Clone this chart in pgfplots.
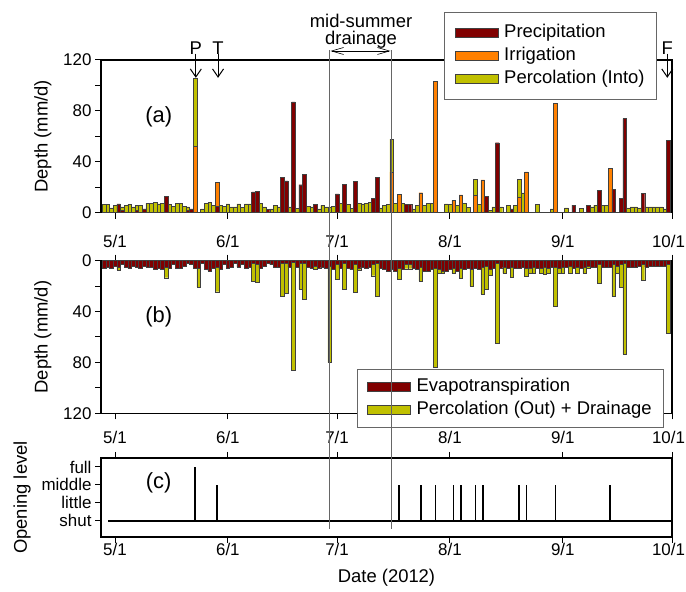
\documentclass[border=0pt]{standalone}
\usepackage{pgfplots}
\pgfplotsset{compat=1.18}
\usepackage{pgfplotstable}
\usepackage{fontspec}
\setmainfont{Liberation Sans}
\usetikzlibrary{arrows.meta}

\definecolor{precip}{RGB}{128,0,0}
\definecolor{irrig}{RGB}{255,128,0}
\definecolor{perc}{RGB}{192,192,0}

% day 0 = 5/1; P, I, Pin: inflows (mm/d); ET, Pout: outflows (mm/d)
\pgfplotstableread{
d P I Pin ET Pout
-3 0 0 6.8 6 0
-2 0 0 6.3 5 0
-1 0 0 3.7 6 0
0 0 0 6 4 0
1 7 0 0 5 7.3
2 2 0 4.5 3 0
3 0 0 5.5 5 0
4 0 0 6.8 6 0
5 0 0 4.5 4 0
6 2 0 6 5 0
7 0 0 6 6 0
8 3 0 0 4 0
9 0 0 7.3 5 0
10 0 0 7.3 5 0
11 0 0 8.4 7 0
12 0 0 7 6 0
13 0 0 7.6 7 0
14 13 0 0 5 13.4
15 0 0 6.8 6 0
16 0 0 5 3 0
17 0 0 7.3 6 0
18 0 0 7.3 6 0
19 0 0 5 4 0
20 2 0 4.5 2 0
21 3 0 0 3 0
22 0 52 105.8 6 0
23 0 0 0 6 20.5
24 0 0 3 2 0
25 0 0 7.6 7 0
26 0 0 8 8 0
27 0 0 6 6 0
28 5 24 0 5 24.4
29 0 0 6 7 0
30 0 0 5 3 0
31 0 0 7 6 0
32 0 0 4.5 5 0
33 0 0 4.5 2 0
34 0 0 7 5 0
35 0 0 4 3 0
36 0 0 7 6 0
37 0 0 7 5 0
38 16.3 0 0 2 16.5
39 16.8 0 0 3 17.3
40 0 0 7.6 6 0
41 0 0 4.5 4 0
42 2.4 0 0 2 0
43 0 0 3 3 0
44 0 0 6 5 0
45 0 0 4.5 5 0
46 27.6 0 0 2 28
47 25 0 0 2 25.5
48 0 0 4.5 5 0
49 87 0 0 1 86.5
50 0 0 3.4 5 0
51 22 0 0 2 22.3
52 30.4 0 0 2 30
53 0 0 5 5 0
54 0 0 4.5 6 0
55 6.3 0 0 4 6.6
56 0 0 3 6 0
57 0 0 5.8 5 0
58 0 0 4.5 6 0
59 0 0 4.5 4 80
60 0 0 5 7 0
61 14.7 0 0 3 14.5
62 0 0 7.6 6 0
63 22.3 0 0 2 22.3
64 0 0 6.8 6 0
65 0 0 3.4 7 0
66 24.7 0 0 3 25
67 0 0 7.6 6 7.6
68 0 0 7 5 0
69 0 0 7.6 6 0
70 0 0 8 5 0
71 11.5 0 0 3 11.8
72 28 0 0 2 28.3
73 0 0 3.7 6 0
74 0 0 5.5 7 0
75 0 0 6.3 8 0
76 0 32 57.8 7 0
77 0 0 7.6 8 0
78 0 14.4 0 6 14.5
79 0 0 7.6 7 0
80 6.3 0 0 3 6.3
81 6.3 0 0 3 6.3
82 0 0 3 6 0
83 0 0 5.5 7 0
84 0 15.7 0 5 15.8
85 0 0 6 8 0
86 0 0 7.6 8 0
87 0 0 7.6 7 0
88 0 103 0 6 84
89 0 0 0 7 10
90 0 0 0 8 10
91 0 0 7 8 0
92 0 0 6.3 7 0
93 0 9.7 0 6 10
94 0 0 6 8 0
95 0 14 0 6 14
96 0 0 7.6 7 0
97 0 0 4 6 0
98 0 0 0 7 20
99 0 13.9 26.2 6 0
100 0 0 6.3 7 0
101 0 25.7 0 5 26
102 12.9 0 0 4 22.3
103 0 0 1.6 7 11.3
104 0 0 4.5 6 0
105 55 0 0 2 65
106 0 0 4.5 6 0
107 0 0 0 5 10
108 0 0 5.8 6 0
109 3 0 0 5 13
110 0 0 5.8 6 0
111 0 12.3 26 6 0
112 0 0 15.5 5 0
113 0 32 0 6 12
114 0 0 0 6 10
115 0 0 0 5 10
116 0 0 6.3 6 0
117 0 0 0 6 10
118 0 0 0 5 10.5
119 0 0 0 6 10
120 0 0 3 5 0
121 0 86 0 5 36
122 0 0 0 6 10
123 0 0 0 5 10
124 0 0 3.7 5 0
125 0 0 0 4 10
126 6 0 0 6 0
127 0 0 0 5 10
128 0 0 3.4 6 0
129 0 0 0 5 10
130 5.5 0 0 4 6
131 0 0 4.5 5 0
132 0 0 6 5 0
133 17.6 0 0 3 18
134 0 0 6 5 0
135 0 0 6 5 0
136 0 35 0 5 0
137 18.6 0 0 3 28.3
138 0 0 0 4 10
139 11 0 0 3 21
140 74 0 0 2 73.5
141 0 0 3.7 5 0
142 0 0 4.5 5 0
143 0 0 4.5 5 0
144 0 0 3.7 4 0
145 15.2 0 0 3 15.2
146 0 0 4.5 5 0
147 0 0 4.5 4 0
148 0 0 4.5 4 0
149 0 0 4.5 4 0
150 0 0 4.5 4 0
151 0 0 3 4 0
152 57 0 0 3 56.7
}\water

\pgfplotsset{
  /pgf/number format/assume math mode=true,
  panel/.style={
    scale only axis, width=571bp, xmin=-3.85, xmax=153,
    axis line style={line width=1.2bp},
    every tick/.style={black, line width=1bp},
    tick align=outside, major tick length=6bp, minor tick length=6bp,
    xtick={0,31,61,92,123,153},
    xticklabels={5/1,6/1,7/1,8/1,9/1,\hspace*{-7bp}10/1},
    ytick pos=left,
    tick label style={font=\fontsize{17}{19}\selectfont},
    label style={font=\fontsize{18.5}{21}\selectfont},
    clip=false,
  },
  dbar/.style={ybar, bar width=1, bar shift=0pt, draw=black!75, line width=0.4bp},
  legend image code/.code={\draw[#1,/tikz/.cd] (0bp,-4.5bp) rectangle (43bp,4.5bp); \path (47bp,0bp);},
  lgd/.style={legend cell align=left, reverse legend,
    legend style={draw=black!60, line width=0.8bp, fill=white,
      font=\fontsize{18.5}{21}\selectfont, inner xsep=10bp, inner ysep=9bp, row sep=0bp,
      nodes={text height=13bp, text depth=4bp, inner ysep=3bp}}},
}

\tikzset{lbl/.style={font=\fontsize{18.5}{21}\selectfont},
  barb/.style={line width=1bp, -{Straight Barb[length=8bp,width=11bp]}}}

\begin{document}
\begin{tikzpicture}
\path[use as bounding box] (0,0) rectangle (686bp,592bp);

% (a) inflows
\begin{axis}[panel, at={(101bp,379.3bp)}, anchor=south west, height=152.7bp,
  ymin=0, ymax=120, ytick={0,40,80,120}, minor ytick={20,60,100},
  xtick pos=bottom, xticklabel style={yshift=-13bp},
  ylabel={Depth (mm/d)}, ylabel shift=5bp,
  lgd, legend style={at={(0.9737,1.314)}, anchor=north east}]
\addplot[dbar, fill=perc] table[x=d, y=Pin] {\water};
\addlegendentry{Percolation (Into)}
\addplot[dbar, fill=irrig] table[x=d, y=I] {\water};
\addlegendentry{Irrigation}
\addplot[dbar, fill=precip] table[x=d, y=P] {\water};
\addlegendentry{Precipitation}
\node[font=\fontsize{22}{24}\selectfont] at (axis cs:12,75) {(a)};
\node[lbl] at (axis cs:22.2,129.5) {P};
\node[lbl] at (axis cs:28.3,129.5) {T};
\node[lbl] at (axis cs:151.7,129.5) {F};
\draw[barb] (axis cs:22.2,125) -- (axis cs:22.2,106);
\draw[barb] (axis cs:28.3,125) -- (axis cs:28.3,106);
\draw[barb] (axis cs:151.7,125) -- (axis cs:151.7,106);
\end{axis}

% (b) outflows
\begin{axis}[panel, at={(101bp,178.7bp)}, anchor=south west, height=152.6bp,
  y dir=reverse, ymin=0, ymax=120, ytick={0,40,80,120}, minor ytick={20,60,100},
  xtick pos=both, xticklabel style={yshift=-8bp},
  ylabel={Depth (mm/d)}, ylabel shift=5bp,
  lgd, legend style={at={(0.986,0.29)}, anchor=north east, inner ysep=6bp}]
\addplot[dbar, fill=perc] table[x=d, y=Pout] {\water};
\addlegendentry{Percolation (Out) + Drainage}
\addplot[dbar, fill=precip] table[x=d, y=ET] {\water};
\addlegendentry{Evapotranspiration}
\node[font=\fontsize{22}{24}\selectfont] at (axis cs:12,44) {(b)};
\end{axis}

% (c) gate opening
\begin{axis}[panel, at={(101bp,55bp)}, anchor=south west, height=79bp,
  ymin=-0.9, ymax=3.5, ytick={0,1,2,3}, yticklabels={shut,little,middle,full},
  xtick pos=both, xticklabel style={yshift=3bp},
  ylabel={Opening level}, ylabel shift=4bp,
  xlabel={Date (2012)}, xlabel shift=6bp]
\addplot[black, line width=2.4bp] coordinates {(-1.9,0) (153,0)};
\addplot[ycomb, black, line width=1.6bp] coordinates {
(22,3) (28,2) (76,2) (78,2) (84,2) (88,2) (93,2) (95,2) (99,2) (101,2)
(111,2) (113,2) (121,2) (136,2)};
\node[font=\fontsize{22}{24}\selectfont] at (axis cs:12,2.1) {(c)};
\end{axis}

% mid-summer drainage period
\draw[black!60, line width=0.7bp] (329.5bp,542bp) -- (329.5bp,63bp);
\draw[black!60, line width=0.7bp] (391.5bp,542bp) -- (391.5bp,63bp);
\draw[line width=0.6bp, {Straight Barb[length=12bp,width=7bp]}-{Straight Barb[length=12bp,width=7bp]}]
  (330.5bp,541bp) -- (390.5bp,541bp);
\node[lbl] at (361bp,571bp) {mid-summer};
\node[lbl] at (361bp,552bp) {drainage};
\end{tikzpicture}
\end{document}
